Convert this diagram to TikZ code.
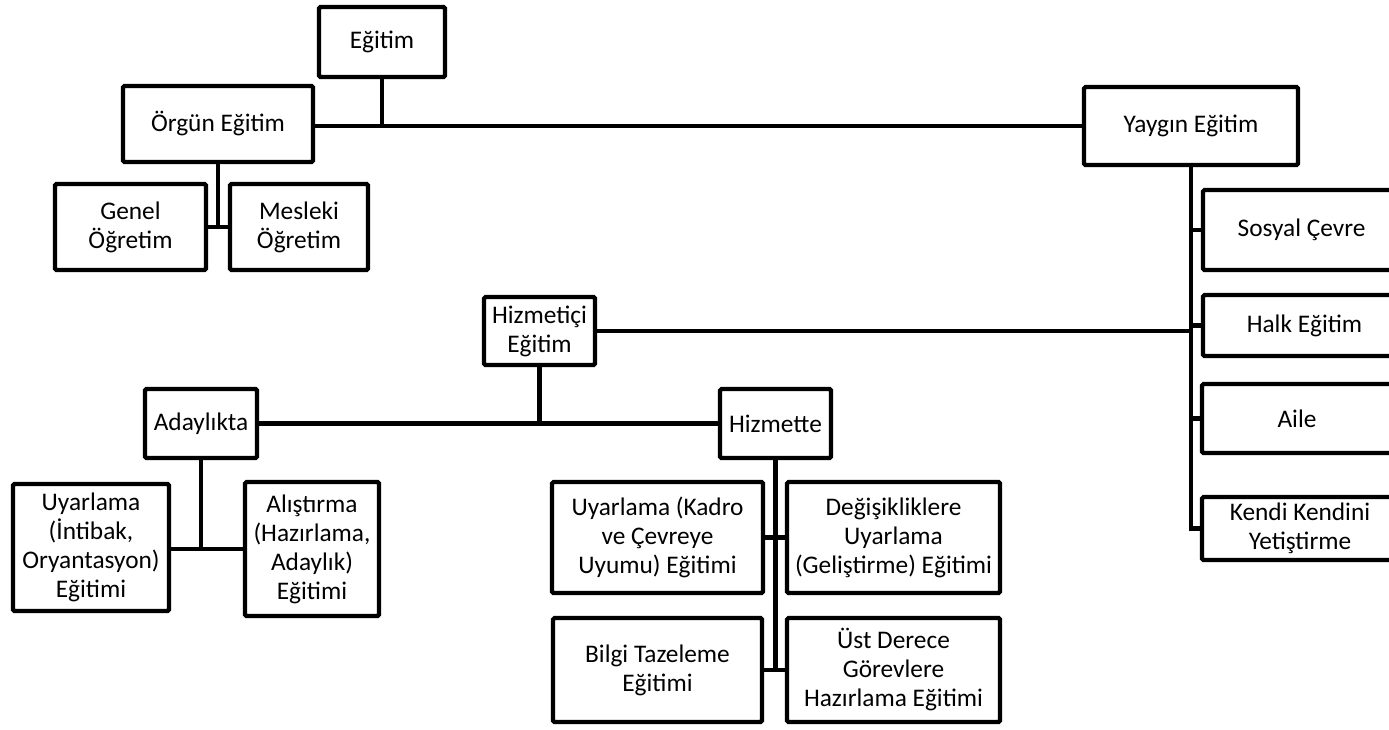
\documentclass[tikz,border=0pt]{standalone}
\usepackage{fontspec}
\setmainfont{Carlito}
\tikzset{
  x=0.75pt, y=-0.75pt,
  box/.style={draw=black, line width=3.3pt, rounded corners=1.2pt, fill=white,
    inner sep=0pt, align=center, font=\fontsize{19}{21.75}\selectfont},
  link/.style={draw=black, line width=3.3pt, line join=miter}
}
\newcommand\boxat[6]{%
  \node[box, minimum width={(#4-#2-4)*0.75pt}, minimum height={(#5-#3-4)*0.75pt}]
    (#1) at ({(#2+#4)/2},{(#3+#5)/2}) {#6};}
\begin{document}
\begin{tikzpicture}
\clip (0,0) rectangle (1389,729);
\fill[white] (0,0) rectangle (1389,729);
% top level
\boxat{egitim}{317}{5}{447}{79}{Eğitim}
\boxat{orgun}{121}{84}{315}{164}{Örgün Eğitim}
\boxat{genel}{53}{182}{208}{272}{Genel\\Öğretim}
\boxat{mesleki}{228}{182}{370}{272}{Mesleki\\Öğretim}
\boxat{yaygin}{1082}{85}{1300}{167}{Yaygın Eğitim}
\boxat{sosyal}{1201}{188}{1402}{272}{Sosyal Çevre}
\boxat{halk}{1201}{293}{1408}{358}{Halk Eğitim}
\boxat{aile}{1200}{382}{1394}{455}{Aile}
\boxat{kendi}{1200}{495}{1400}{562}{Kendi Kendini\\Yetiştirme}
% hizmetici
\boxat{hizmetici}{482}{295}{597}{367}{Hizmetiçi\\Eğitim}
\boxat{adaylikta}{143}{387}{259}{460}{Adaylıkta}
\boxat{hizmette}{718}{387}{833}{460}{Hizmette}
\boxat{uyar1}{11}{482}{171}{613}{Uyarlama\\(İntibak,\\Oryantasyon)\\Eğitimi}
\boxat{alis}{243}{480}{381}{618}{Alıştırma\\(Hazırlama,\\Adaylık)\\Eğitimi}
\boxat{uyar2}{550}{480}{765}{595}{Uyarlama (Kadro\\ve Çevreye\\Uyumu) Eğitimi}
\boxat{degis}{785}{480}{1002}{595}{Değişikliklere\\Uyarlama\\(Geliştirme) Eğitimi}
\boxat{bilgi}{551}{616}{764}{724}{Bilgi Tazeleme\\Eğitimi}
\boxat{ust}{785}{616}{1002}{724}{Üst Derece\\Görevlere\\Hazırlama Eğitimi}
% connectors
\draw[link] (egitim.south) -- (egitim.south |- yaygin.west);
\draw[link] (orgun.east |- yaygin.west) -- (yaygin.west);
\draw[link] (orgun.south) -- (orgun.south |- genel.east);
\draw[link] (genel.east) -- (mesleki.west);
\draw[link] (yaygin.south) |- (kendi.west);
\draw[link] (yaygin.south |- sosyal.west) -- (sosyal.west);
\draw[link] (yaygin.south |- halk.west) -- (halk.west);
\draw[link] (yaygin.south |- aile.west) -- (aile.west);
\draw[link] (hizmetici.east) -- (yaygin.south |- hizmetici.east);
\draw[link] (hizmetici.south) -- (hizmetici.south |- adaylikta.east);
\draw[link] (adaylikta.east) -- (hizmette.west);
\draw[link] (adaylikta.south) -- (adaylikta.south |- alis.west);
\draw[link] (uyar1.east |- alis.west) -- (alis.west);
\draw[link] (hizmette.south) -- (hizmette.south |- bilgi.east);
\draw[link] (uyar2.east) -- (degis.west);
\draw[link] (bilgi.east) -- (ust.west);
\end{tikzpicture}
\end{document}
